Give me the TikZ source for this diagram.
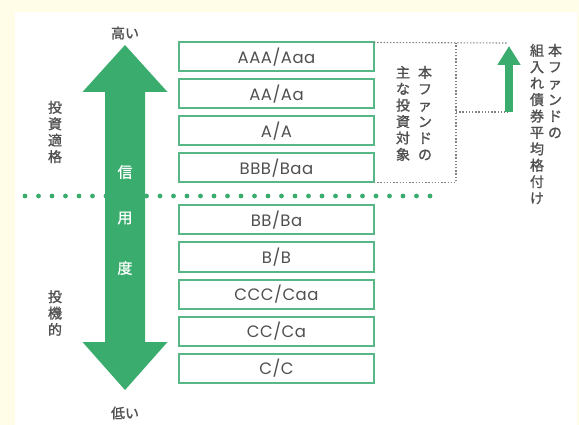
\documentclass[tikz,border=0pt]{standalone}
\usepackage{fontspec}
\setmainfont{Noto Sans CJK JP}[FakeBold=1.2]
\newfontfamily\ratefont{Poppins}[LetterSpace=3]
\usepackage{xcolor}
\usetikzlibrary{positioning, arrows.meta}

\definecolor{creambg}{RGB}{255,252,232}
\definecolor{fundgreen}{RGB}{58,172,110}
\definecolor{boxgreen}{RGB}{88,183,135}
\definecolor{labelgray}{RGB}{80,80,80}
\definecolor{dotgray}{RGB}{130,130,130}

\begin{document}
\begin{tikzpicture}[
    x=1pt, y=-1pt,
    node distance=8pt,
    every node/.style={font=\fontsize{14}{16}\selectfont, text=labelgray, inner sep=0pt, outer sep=0pt},
    ratebox/.style={draw=boxgreen, line width=2pt, fill=white, minimum width=195pt, minimum height=29pt, font=\ratefont\fontsize{16.5}{18}\selectfont},
    vtext/.style={align=center, font=\fontsize{14}{16.4}\selectfont},
    arrtext/.style={text=white, font=\fontsize{15}{17}\selectfont},
    sep/.style={fundgreen, line width=4.8pt, line cap=round, dash pattern=on 0pt off 13.5pt},
    bracket/.style={dotgray, line width=1.1pt, dash pattern=on 1.4pt off 1.8pt},
]
\useasboundingbox (0,0) rectangle (579,425);

% ---- background ----
\fill[creambg] (0,0) rectangle (579,425);
\fill[white] (15,12) rectangle (577,425);

% ---- investment grade / speculative separator ----
\coordinate (sepL) at (25,196);
\coordinate (sepR) at (430.5,196);
\draw[sep] (sepL) -- (sepR);

% ---- credit arrow ----
\coordinate (top) at (125,45);
\coordinate (bot) at (125,390);
\fill[fundgreen] (top) -- ++(42.5,47) -- ++(-22.5,0) -- (145,342) -- (167.5,342)
    -- (bot) -- (82.5,342) -- (105,342) -- (105,92) -- (82.5,92) -- cycle;
\node[arrtext] (shin) at (125,172) {信};
\node[arrtext] (you) at (125,218) {用};
\node[arrtext] (do) at (125,268) {度};

\node (high) at (125,33) {高い};
\node (low) at (125,413) {低い};
\node[vtext] (grade) at (55,132) {投\\資\\適\\格};
\node[vtext] (spec) at (55,313) {投\\機\\的};

% ---- rating boxes ----
\node[ratebox] (aaa) at (276.5,57) {AAA/Aaa};
\node[ratebox, below=of aaa] (aa) {AA/Aa};
\node[ratebox, below=of aa] (a) {A/A};
\node[ratebox, below=of a] (bbb) {BBB/Baa};
\node[ratebox, below=23pt of bbb] (bb) {BB/Ba};
\node[ratebox, below=of bb] (b) {B/B};
\node[ratebox, below=of b] (ccc) {CCC/Caa};
\node[ratebox, below=of ccc] (cc) {CC/Ca};
\node[ratebox, below=of cc] (c) {C/C};

% ---- main targets bracket ----
\coordinate (brkTop) at (456,43);
\coordinate (brkMid) at (456,112);
\coordinate (brkEnd) at (508,43);
\coordinate (brkEndMid) at (508,112);
\draw[bracket] (aaa.north east) -- (brkEnd);
\draw[bracket] (bbb.south east) -| (brkTop);
\draw[bracket] (brkMid) -- (brkEndMid);
\node[vtext, anchor=north] (target1) at (425,66) {本\\フ\\ァ\\ン\\ド\\の};
\node[vtext, anchor=north] (target2) at (403,66) {主\\な\\投\\資\\対\\象};

% ---- average rating ----
\coordinate (avgBase) at (509,112);
\coordinate (avgTip) at (509,46);
\draw[fundgreen, line width=8pt, -{Triangle[length=19pt, width=22pt]}] (avgBase) -- (avgTip);
\node[vtext, anchor=north] (avg1) at (555,44) {本\\フ\\ァ\\ン\\ド\\の};
\node[vtext, anchor=north] (avg2) at (537,44) {組\\入\\れ\\債\\券\\平\\均\\格\\付\\け};

\end{tikzpicture}
\end{document}
